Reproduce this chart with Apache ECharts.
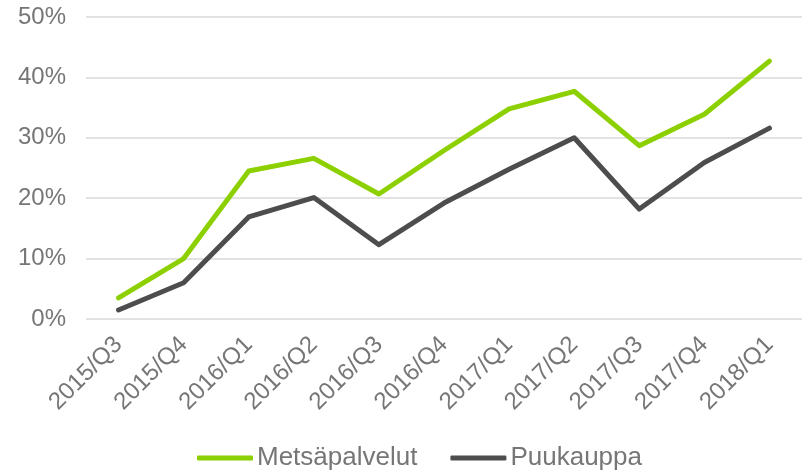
<!DOCTYPE html>
<html>
<head>
<meta charset="utf-8">
<script src="https://cdn.jsdelivr.net/npm/echarts@6/dist/echarts.min.js"></script>
<style>
    html, body { margin: 0; padding: 0; background: #fff; }
    #chart { width: 802px; height: 471px; }
</style>
</head>
<body>
<div id="chart"></div>
<script>
var categories = ['2015/Q3', '2015/Q4', '2016/Q1', '2016/Q2', '2016/Q3', '2016/Q4',
    '2017/Q1', '2017/Q2', '2017/Q3', '2017/Q4', '2018/Q1'];
var metsapalvelut = [3.5, 10.0, 24.5, 26.6, 20.7, 27.9, 34.8, 37.7, 28.7, 33.9, 42.7];
var puukauppa = [1.5, 6.0, 16.9, 20.1, 12.3, 19.2, 24.8, 30.0, 18.2, 25.9, 31.6];
var yTicks = [0, 10, 20, 30, 40, 50];

var myChart = echarts.init(document.getElementById('chart'));
var option = {
    animation: false,
    grid: {
        left: 86,
        top: 17,
        width: 722,
        height: 302
    },
    legend: {
        top: 445,
        left: 197,
        padding: 0,
        itemWidth: 56,
        itemHeight: 5,
        itemGap: 33,
        textStyle: {
            fontFamily: 'Liberation Sans',
            fontSize: 26,
            color: '#767676',
            padding: [0, 0, 0, -1]
        },
        icon: 'roundRect',
        data: ['Metsäpalvelut', 'Puukauppa']
    },
    xAxis: {
        type: 'category',
        data: categories,
        boundaryGap: true,
        axisLine: { show: false },
        axisTick: { show: false },
        axisLabel: {
            rotate: 45,
            interval: 0,
            margin: 22,
            fontFamily: 'Liberation Sans',
            fontSize: 24,
            color: '#767676'
        }
    },
    yAxis: {
        type: 'value',
        min: yTicks[0],
        max: yTicks[yTicks.length - 1],
        interval: 10,
        axisLine: { show: false },
        axisTick: { show: false },
        splitLine: { lineStyle: { color: '#d9d9d9', width: 1.5 } },
        axisLabel: {
            formatter: '{value}%',
            margin: 20,
            fontFamily: 'Liberation Sans',
            fontSize: 24,
            color: '#767676'
        }
    },
    series: [
        {
            name: 'Metsäpalvelut',
            type: 'line',
            data: metsapalvelut,
            symbol: 'none',
            color: '#8cd000',
            lineStyle: { width: 5, color: '#8cd000', cap: 'round', join: 'round' }
        },
        {
            name: 'Puukauppa',
            type: 'line',
            data: puukauppa,
            symbol: 'none',
            color: '#4d4d4d',
            lineStyle: { width: 5, color: '#4d4d4d', cap: 'round', join: 'round' }
        }
    ]
};
myChart.setOption(option);
</script>
</body>
</html>
